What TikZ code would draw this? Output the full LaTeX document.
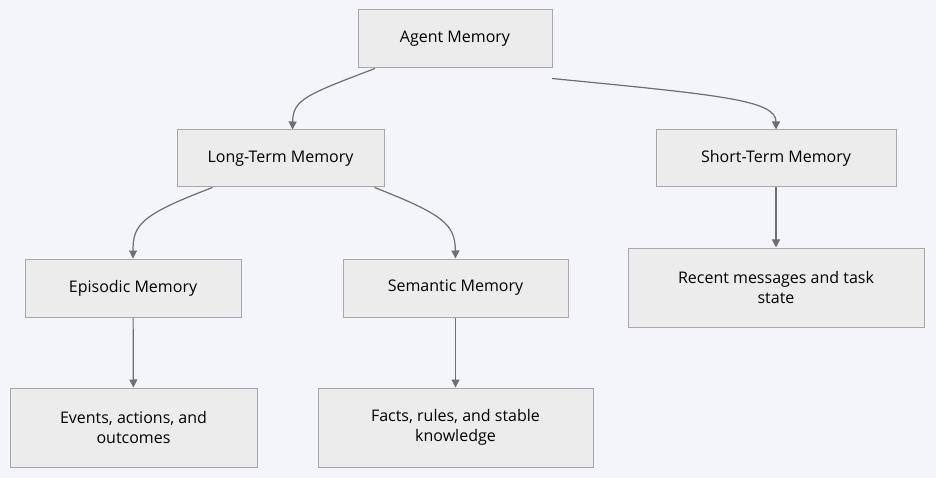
\documentclass[tikz,border=0pt]{standalone}
\usepackage{fontspec}
\setmainfont{Open Sans}
\usetikzlibrary{positioning,calc,arrows.meta}
\definecolor{bgcol}{HTML}{F4F4FB}
\definecolor{boxfill}{HTML}{ECECEC}
\definecolor{boxline}{HTML}{A8A8A8}
\definecolor{linkcol}{HTML}{6E6E6E}
\tikzset{
  memnode/.style={draw=boxline, fill=boxfill, line width=1pt, align=center,
    font=\fontsize{16}{20}\selectfont, text=black, inner sep=0pt},
  link/.style={draw=linkcol, line width=1.2pt, -{Triangle[length=8pt,width=8pt]}}
}
\begin{document}
\begin{tikzpicture}[x=1pt,y=-1pt]
    % Background
    \fill[bgcol] (0,0) rectangle (936,478);

    % Memory kinds
    \node[memnode, minimum width=194pt, minimum height=58pt] (agent) at (455,39) {Agent Memory};
    \node[memnode, minimum width=207pt, minimum height=57pt] (longterm) at (280.5,158.5) {Long-Term Memory};
    \node[memnode, minimum width=240pt, minimum height=57pt] (shortterm) at (776,158.5) {Short-Term Memory};
    \node[memnode, minimum width=216pt, minimum height=58pt] (episodic) at (133,288) {Episodic Memory};
    \node[memnode, minimum width=225pt, minimum height=58pt] (semantic) at (455.5,288) {Semantic Memory};

    % Contents
    \node[memnode, minimum width=296pt, minimum height=79pt] (recent) at (776,287.5) {Recent messages and task\\state};
    \node[memnode, minimum width=247pt, minimum height=79pt] (events) at (133.5,427.5) {Events, actions, and\\outcomes};
    \node[memnode, minimum width=275pt, minimum height=79pt] (facts) at (455.5,427.5) {Facts, rules, and stable\\knowledge};

    % Links
    \draw[link] ([xshift=-80pt]agent.south) .. controls (305,95) and (293,100) .. ([xshift=12pt]longterm.north);
    \draw[link] ([xshift=97pt,yshift=-10pt]agent.south) .. controls (720,95) and (776,100) .. (shortterm.north);
    \draw[link] ([xshift=-68pt]longterm.south) .. controls (140,215) and (133,225) .. (episodic.north);
    \draw[link] ([xshift=94pt]longterm.south) .. controls (445,215) and (455,225) .. (semantic.north);
    \draw[link] (shortterm) -- (recent);
    \draw[link] (episodic) -- (events);
    \draw[link] (semantic) -- (facts);
\end{tikzpicture}
\end{document}
